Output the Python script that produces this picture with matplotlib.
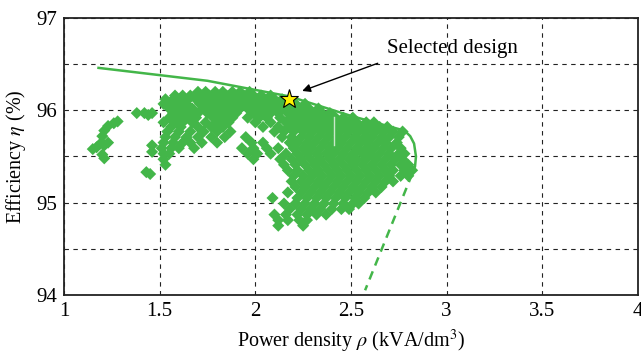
import matplotlib
matplotlib.use("Agg")
import matplotlib.pyplot as plt

"""
Efficiency vs power density design space with Pareto front and selected design.
"""

plt.rcParams['font.family'] = ['Liberation Serif', 'DejaVu Serif']
plt.rcParams['mathtext.fontset'] = 'stix'

GREEN = '#43b649'

# design cloud, one list of x values per efficiency row
row_y = [96.20, 96.16, 96.12, 96.07, 96.02, 95.97, 95.92, 95.87, 95.82, 95.77,
         95.71, 95.65, 95.59, 95.53, 95.47, 95.41, 95.35, 95.29, 95.23, 95.17,
         95.11, 95.05, 94.99, 94.93, 94.87, 94.81, 94.75]
row_x = [
    [1.70, 1.74, 1.79, 1.83, 1.88, 1.92, 1.97],
    [1.58, 1.62, 1.66, 1.72, 1.76, 1.81, 1.85, 1.90, 1.94, 1.99, 2.03, 2.08],
    [1.53, 1.57, 1.61, 1.65, 1.69, 1.74, 1.78, 1.83, 1.87, 1.92, 1.96, 2.01, 2.05, 2.10, 2.14],
    [1.52, 1.56, 1.60, 1.64, 1.71, 1.76, 1.80, 1.85, 1.89, 1.94, 1.98, 2.03, 2.07, 2.12, 2.17,
     2.21, 2.26],
    [1.55, 1.59, 1.63, 1.67, 1.73, 1.78, 1.83, 1.87, 1.92, 1.96, 2.01, 2.05, 2.10, 2.15, 2.19,
     2.24, 2.28, 2.33],
    [1.38, 1.42, 1.46, 1.57, 1.61, 1.66, 1.70, 1.75, 1.80, 1.86, 1.90, 1.99, 2.03, 2.08, 2.12,
     2.17, 2.21, 2.26, 2.30, 2.35, 2.39],
    [1.55, 1.60, 1.64, 1.69, 1.78, 1.83, 1.88, 1.96, 2.02, 2.06, 2.13, 2.19, 2.24, 2.28, 2.33,
     2.37, 2.42, 2.46, 2.51],
    [1.52, 1.58, 1.62, 1.67, 1.74, 1.80, 1.86, 2.00, 2.08, 2.16, 2.21, 2.26, 2.31, 2.35, 2.40,
     2.44, 2.49, 2.53, 2.58, 2.62],
    [1.56, 1.61, 1.70, 1.77, 1.83, 2.04, 2.12, 2.18, 2.23, 2.28, 2.33, 2.38, 2.42, 2.47, 2.51,
     2.56, 2.60, 2.65, 2.69],
    [1.54, 1.60, 1.66, 1.73, 1.80, 1.87, 2.10, 2.15, 2.20, 2.25, 2.30, 2.35, 2.40, 2.44, 2.49,
     2.54, 2.58, 2.63, 2.67, 2.72, 2.77],
    [1.53, 1.58, 1.64, 1.70, 1.77, 1.84, 1.95, 2.14, 2.19, 2.24, 2.28, 2.33, 2.38, 2.43, 2.47,
     2.52, 2.57, 2.61, 2.66, 2.70, 2.75],
    [1.52, 1.57, 1.62, 1.66, 1.72, 1.80, 1.98, 2.04, 2.18, 2.22, 2.27, 2.31, 2.36, 2.41, 2.45,
     2.50, 2.55, 2.59, 2.64, 2.68, 2.74],
    [1.51, 1.56, 1.60, 1.68, 1.93, 1.99, 2.06, 2.12, 2.20, 2.25, 2.29, 2.34, 2.39, 2.43, 2.48,
     2.53, 2.58, 2.62, 2.67, 2.71, 2.76],
    [1.52, 1.55, 1.96, 2.01, 2.08, 2.16, 2.22, 2.27, 2.32, 2.37, 2.41, 2.46, 2.51, 2.56, 2.60,
     2.65, 2.70, 2.75, 2.78],
    [1.52, 1.99, 2.13, 2.19, 2.24, 2.29, 2.34, 2.39, 2.44, 2.49, 2.53, 2.58, 2.63, 2.68, 2.73, 2.77],
    [1.53, 2.15, 2.21, 2.26, 2.31, 2.36, 2.41, 2.46, 2.51, 2.56, 2.61, 2.66, 2.71, 2.76, 2.80],
    [2.17, 2.22, 2.28, 2.33, 2.38, 2.43, 2.48, 2.53, 2.58, 2.63, 2.68, 2.72, 2.78, 2.82],
    [2.20, 2.25, 2.30, 2.35, 2.40, 2.45, 2.50, 2.55, 2.60, 2.65, 2.70, 2.76, 2.80],
    [2.19, 2.24, 2.28, 2.33, 2.38, 2.43, 2.48, 2.53, 2.58, 2.63, 2.68, 2.72],
    [2.21, 2.26, 2.31, 2.36, 2.41, 2.46, 2.51, 2.56, 2.61, 2.66],
    [2.17, 2.24, 2.29, 2.34, 2.39, 2.44, 2.49, 2.54, 2.59, 2.63],
    [2.09, 2.22, 2.27, 2.32, 2.37, 2.42, 2.47, 2.52, 2.57],
    [2.15, 2.21, 2.26, 2.31, 2.36, 2.41, 2.46, 2.51, 2.54],
    [2.18, 2.24, 2.29, 2.34, 2.40, 2.45, 2.49],
    [2.10, 2.16, 2.22, 2.27, 2.32, 2.37],
    [2.12, 2.17, 2.23, 2.27],
    [2.12, 2.25],
]

# isolated designs at low power density
stray_x = [1.15, 1.17, 1.19, 1.21, 1.23, 1.20, 1.21, 1.20, 1.21, 1.23, 1.26, 1.28,
           1.43, 1.45, 1.46, 1.46, 1.44]
stray_y = [95.58, 95.60, 95.64, 95.62, 95.65, 95.52, 95.48, 95.72, 95.78, 95.83, 95.86, 95.88,
           95.33, 95.31, 95.55, 95.62, 95.95]

# Pareto front (solid) and its extension (dashed)
front_x = [1.18, 1.75, 2.18, 2.50, 2.78, 2.81, 2.83, 2.84, 2.835, 2.82]
front_y = [96.46, 96.32, 96.15, 95.94, 95.78, 95.72, 95.64, 95.50, 95.39, 95.32]
ext_x = [2.82, 2.574]
ext_y = [95.31, 94.05]

sel_x, sel_y = 2.176, 96.12

cloud_x = []
cloud_y = []
for y, xs in zip(row_y, row_x):
    for x in xs:
        cloud_x.append(x)
        cloud_y.append(y)
cloud_x += stray_x
cloud_y += stray_y

fig = plt.figure(figsize=(6.41, 3.54), dpi=100)
ax = fig.add_axes([0.1, 0.167, 0.895, 0.782])

ax.scatter(cloud_x, cloud_y, marker='D', s=38, color=GREEN, edgecolors='none', zorder=3)
ax.plot([2.41, 2.41], [95.62, 95.93], color='#c9e8ca', lw=1, zorder=3.5)
ax.plot(front_x, front_y, color=GREEN, lw=1.8, zorder=4)
ax.plot(ext_x, ext_y, color=GREEN, lw=1.8, ls=(0, (3.5, 2.5)), zorder=4)
ax.plot(sel_x, sel_y, marker='*', ms=14, color='#fff200', mec='black', mew=0.8, zorder=6)

ax.text(3.03, 96.67, 'Selected design', ha='center', va='center', fontsize=15)
ax.annotate('', xy=(2.245, 96.21), xytext=(2.64, 96.51),
            arrowprops=dict(arrowstyle='-|>', color='black', lw=1.0,
                            mutation_scale=12, shrinkA=0, shrinkB=0))

ax.set_xlim(1, 4)
ax.set_ylim(94, 97)
ax.set_xticks([1, 1.5, 2, 2.5, 3, 3.5, 4])
ax.set_xticklabels(['1', '1.5', '2', '2.5', '3', '3.5', '4'])
ax.set_yticks([94, 94.5, 95, 95.5, 96, 96.5, 97])
ax.set_yticklabels(['94', '', '95', '', '96', '', '97'])
ax.tick_params(labelsize=15, direction='in', length=0, pad=5)
ax.grid(True, color='#222222', ls=(0, (4, 4)), lw=0.8)
for s in ax.spines.values():
    s.set_linewidth(1.3)
    s.set_color('#222222')

ax.set_xlabel(r'Power density $\rho$ (kVA/dm$^3$)', fontsize=14.5, labelpad=5)
ax.set_ylabel(r'Efficiency $\eta$ (%)', fontsize=14.5, labelpad=6)

fig.savefig('out.png', dpi=100)
